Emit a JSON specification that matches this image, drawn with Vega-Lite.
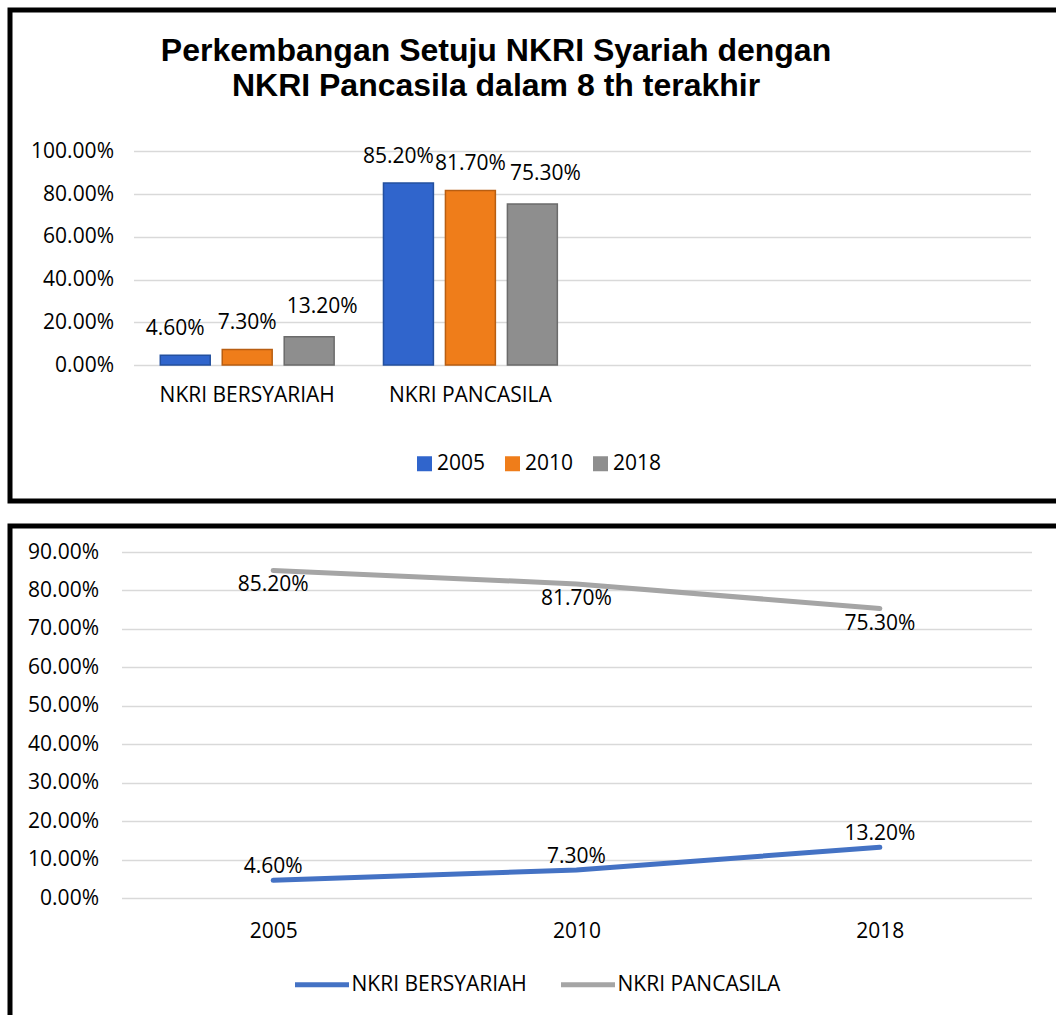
{
  "$schema": "https://vega.github.io/schema/vega-lite/v6.json",
  "padding": {"left": 7, "top": 7, "right": 0, "bottom": 0},
  "background": "white",
  "spacing": 19,
  "resolve": {"scale": {"color": "independent", "stroke": "independent"}, "legend": {"color": "independent"}},
  "config": {
    "view": {"stroke": "#000000", "strokeWidth": 5},
    "font": "Open Sans",
    "axis": {"labelFont": "Open Sans", "labelFontSize": 21, "labelColor": "#000000", "domain": false, "ticks": false, "title": null, "gridColor": "#D9D9D9", "gridWidth": 1.5},
    "legend": {"labelFont": "Open Sans", "labelFontSize": 21, "labelColor": "#000000", "padding": 0, "title": null, "labelLimit": 400},
    "text": {"font": "Open Sans", "fontSize": 21, "color": "#000000"}
  },
  "vconcat": [
    {
      "width": 1052,
      "height": 491,
      "title": {"text": ["Perkembangan Setuju NKRI Syariah dengan", "NKRI Pancasila dalam 8 th terakhir"], "font": "Liberation Sans", "fontSize": 32, "fontWeight": "bold", "color": "#000000", "anchor": "middle", "frame": "group", "dx": -40, "dy": 97, "lineHeight": 35},
      "data": {"values": [
        {"category": "NKRI BERSYARIAH", "year": "2005", "value": 0.046},
        {"category": "NKRI BERSYARIAH", "year": "2010", "value": 0.073},
        {"category": "NKRI BERSYARIAH", "year": "2018", "value": 0.132},
        {"category": "NKRI PANCASILA", "year": "2005", "value": 0.852},
        {"category": "NKRI PANCASILA", "year": "2010", "value": 0.817},
        {"category": "NKRI PANCASILA", "year": "2018", "value": 0.753}
      ]},
      "encoding": {
        "x": {"field": "category", "type": "nominal", "scale": {"domain": ["NKRI BERSYARIAH", "NKRI PANCASILA", "", " "], "range": [123.5, 1020.5], "paddingInner": 0.221, "paddingOuter": 0.12}, "axis": {"orient": "bottom", "offset": -136, "labelPadding": 19, "labelAngle": 0, "grid": false}},
        "y": {"field": "value", "type": "quantitative", "scale": {"domain": [0, 1], "range": [355, 141.3], "nice": false}, "axis": {"values": [0, 0.2, 0.4, 0.6, 0.8, 1], "format": ".2%", "offset": -123.5, "labelPadding": 20, "grid": true}},
        "xOffset": {"field": "year", "type": "nominal", "sort": ["2005", "2010", "2018"], "scale": {"paddingInner": 0.194, "paddingOuter": 0}}
      },
      "layer": [
        {
          "mark": {"type": "bar", "strokeWidth": 1.5},
          "encoding": {
            "color": {"field": "year", "type": "nominal", "scale": {"domain": ["2005", "2010", "2018"], "range": ["#3065CC", "#EF7D1A", "#8E8E8E"]},
              "legend": {"orient": "none", "legendX": 404, "legendY": 443, "direction": "horizontal", "symbolType": "square", "symbolSize": 225, "symbolStrokeWidth": 0, "labelOffset": 2, "columnPadding": 16}},
            "stroke": {"field": "year", "type": "nominal", "scale": {"domain": ["2005", "2010", "2018"], "range": ["#23509F", "#B85E12", "#6B6B6B"]}, "legend": null}
          }
        },
        {
          "transform": [{"filter": "datum.year === '2005'"}],
          "mark": {"type": "text", "baseline": "middle", "dy": -26, "dx": -10},
          "encoding": {"text": {"field": "value", "format": ".2%"}}
        },
        {
          "transform": [{"filter": "datum.year === '2010'"}],
          "mark": {"type": "text", "baseline": "middle", "dy": -26},
          "encoding": {"text": {"field": "value", "format": ".2%"}}
        },
        {
          "transform": [{"filter": "datum.year === '2018'"}],
          "mark": {"type": "text", "baseline": "middle", "dy": -30, "dx": 13},
          "encoding": {"text": {"field": "value", "format": ".2%"}}
        }
      ]
    },
    {
      "width": 1052,
      "height": 500,
      "data": {"values": [
        {"year": "2005", "series": "NKRI BERSYARIAH", "value": 0.046},
        {"year": "2010", "series": "NKRI BERSYARIAH", "value": 0.073},
        {"year": "2018", "series": "NKRI BERSYARIAH", "value": 0.132},
        {"year": "2005", "series": "NKRI PANCASILA", "value": 0.852},
        {"year": "2010", "series": "NKRI PANCASILA", "value": 0.817},
        {"year": "2018", "series": "NKRI PANCASILA", "value": 0.753}
      ]},
      "encoding": {
        "x": {"field": "year", "type": "ordinal", "scale": {"type": "point", "range": [111.5, 1021.5], "padding": 0.5}, "axis": {"orient": "bottom", "offset": -128, "labelPadding": 22, "labelAngle": 0, "grid": false}},
        "y": {"field": "value", "type": "quantitative", "scale": {"domain": [0, 0.9], "range": [372, 26], "nice": false}, "axis": {"values": [0, 0.1, 0.2, 0.3, 0.4, 0.5, 0.6, 0.7, 0.8, 0.9], "format": ".2%", "offset": -110.5, "labelPadding": 22, "grid": true}}
      },
      "layer": [
        {
          "mark": {"type": "line", "strokeWidth": 5, "strokeCap": "round"},
          "encoding": {
            "color": {"field": "series", "type": "nominal", "scale": {"domain": ["NKRI BERSYARIAH", "NKRI PANCASILA"], "range": ["#4472C4", "#A5A5A5"]},
              "legend": {"orient": "none", "legendX": 282.5, "legendY": 429, "direction": "horizontal", "symbolType": "stroke", "symbolSize": 2916, "symbolStrokeWidth": 5, "labelOffset": 0, "columnPadding": 23}}
          }
        },
        {
          "transform": [{"filter": "datum.series === 'NKRI PANCASILA'"}],
          "mark": {"type": "text", "baseline": "middle", "dy": 15},
          "encoding": {"text": {"field": "value", "format": ".2%"}}
        },
        {
          "transform": [{"filter": "datum.series === 'NKRI BERSYARIAH'"}],
          "mark": {"type": "text", "baseline": "middle", "dy": -13},
          "encoding": {"text": {"field": "value", "format": ".2%"}}
        }
      ]
    }
  ]
}
